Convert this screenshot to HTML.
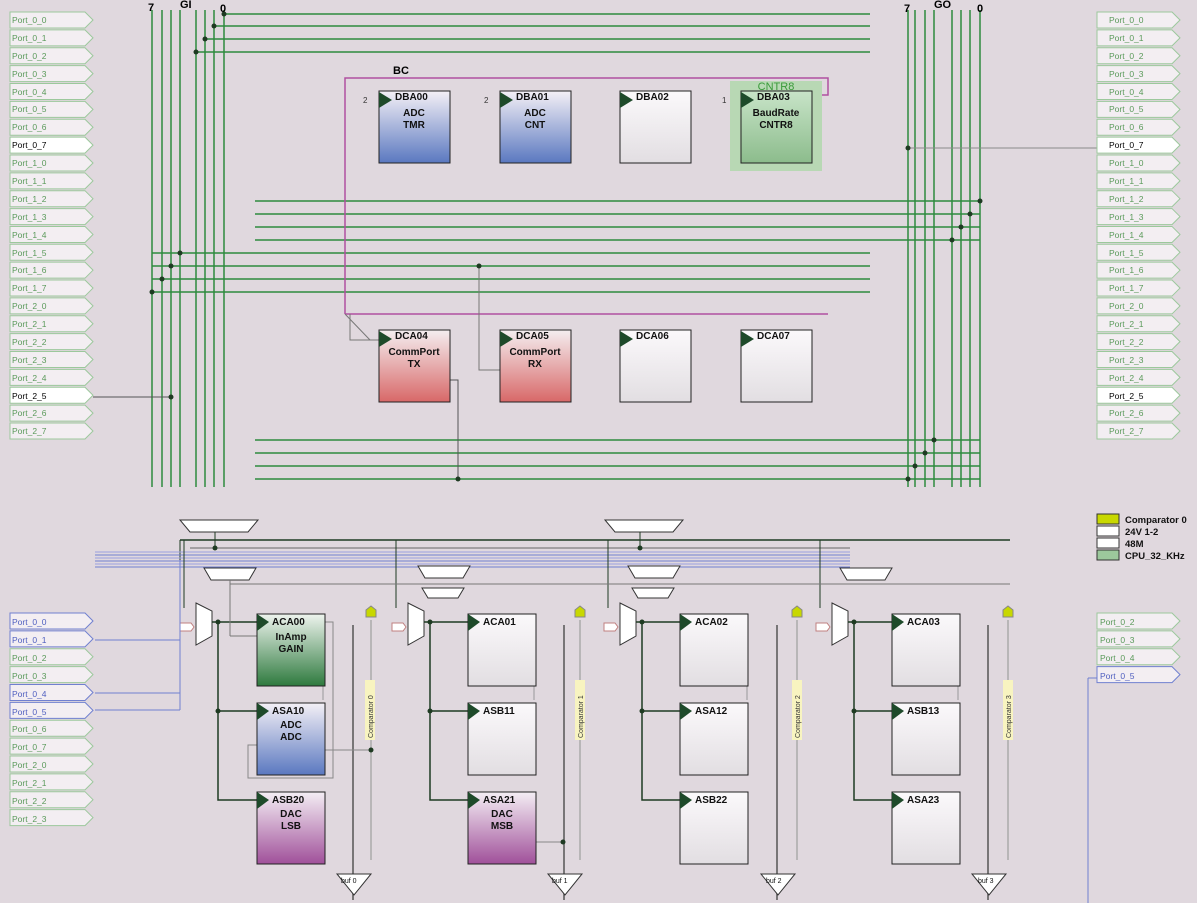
<!DOCTYPE html>
<html><head><meta charset="utf-8"><style>
html,body{margin:0;padding:0;background:#e0d8de;}
svg{display:block;font-family:"Liberation Sans",sans-serif;}
.pt{font-size:8.5px;fill:#5a9a5a}
.pw{font-size:8.5px;fill:#000}
.bt{font-size:10px;font-weight:bold;fill:#111;text-anchor:middle}
.bn{font-size:10px;font-weight:bold;fill:#111}
</style></head><body>
<svg id="s" width="1197" height="903" viewBox="0 0 1197 903" xmlns="http://www.w3.org/2000/svg">
<defs>
<linearGradient id="gb" x1="0" y1="0" x2="0" y2="1"><stop offset="0" stop-color="#f4f0f6"/><stop offset="1" stop-color="#5a78c0"/></linearGradient>
<linearGradient id="gw" x1="0" y1="0" x2="0" y2="1"><stop offset="0" stop-color="#fbf9fb"/><stop offset="1" stop-color="#e2dee2"/></linearGradient>
<linearGradient id="gr" x1="0" y1="0" x2="0" y2="1"><stop offset="0" stop-color="#f4eef0"/><stop offset="1" stop-color="#d86868"/></linearGradient>
<linearGradient id="gg" x1="0" y1="0" x2="0" y2="1"><stop offset="0" stop-color="#eef4ee"/><stop offset="1" stop-color="#2e7a3e"/></linearGradient>
<linearGradient id="gp" x1="0" y1="0" x2="0" y2="1"><stop offset="0" stop-color="#f4eef4"/><stop offset="1" stop-color="#a0509a"/></linearGradient>
<linearGradient id="gc" x1="0" y1="0" x2="0" y2="1"><stop offset="0" stop-color="#c8e4c8"/><stop offset="1" stop-color="#8cbc8c"/></linearGradient>
</defs>
<g id="lines"></g>
<text x="148" y="11" font-size="11" font-weight="bold">7</text>
<text x="180" y="8" font-size="11" font-weight="bold">GI</text>
<text x="220" y="12" font-size="11" font-weight="bold">0</text>
<text x="904" y="12" font-size="11" font-weight="bold">7</text>
<text x="934" y="8" font-size="11" font-weight="bold">GO</text>
<text x="977" y="12" font-size="11" font-weight="bold">0</text>
<text x="393" y="74" font-size="11" font-weight="bold">BC</text>
<rect x="730" y="81" width="92" height="90" fill="#b8d8b4"/>
<text x="776" y="90" font-size="11" fill="#3a9a3a" text-anchor="middle">CNTR8</text>
<g stroke="#222" stroke-width="1">
<rect x="379" y="91" width="71" height="72" fill="url(#gb)"/>
<rect x="500" y="91" width="71" height="72" fill="url(#gb)"/>
<rect x="620" y="91" width="71" height="72" fill="url(#gw)"/>
<rect x="741" y="91" width="71" height="72" fill="url(#gc)"/>
<rect x="379" y="330" width="71" height="72" fill="url(#gr)"/>
<rect x="500" y="330" width="71" height="72" fill="url(#gr)"/>
<rect x="620" y="330" width="71" height="72" fill="url(#gw)"/>
<rect x="741" y="330" width="71" height="72" fill="url(#gw)"/>
</g>
<g fill="#1e4a2a">
<polygon points="379,92 392,100 379,108"/><polygon points="500,92 513,100 500,108"/><polygon points="620,92 633,100 620,108"/><polygon points="741,92 754,100 741,108"/>
<polygon points="379,331 392,339 379,347"/><polygon points="500,331 513,339 500,347"/><polygon points="620,331 633,339 620,347"/><polygon points="741,331 754,339 741,347"/>
</g>
<text class="bn" x="395" y="100">DBA00</text><text class="bt" x="414" y="116">ADC</text><text class="bt" x="414" y="128">TMR</text>
<text class="bn" x="516" y="100">DBA01</text><text class="bt" x="535" y="116">ADC</text><text class="bt" x="535" y="128">CNT</text>
<text class="bn" x="636" y="100">DBA02</text>
<text class="bn" x="757" y="100">DBA03</text><text class="bt" x="776" y="116">BaudRate</text><text class="bt" x="776" y="128">CNTR8</text>
<text class="bn" x="395" y="339">DCA04</text><text class="bt" x="414" y="355">CommPort</text><text class="bt" x="414" y="367">TX</text>
<text class="bn" x="516" y="339">DCA05</text><text class="bt" x="535" y="355">CommPort</text><text class="bt" x="535" y="367">RX</text>
<text class="bn" x="636" y="339">DCA06</text>
<text class="bn" x="757" y="339">DCA07</text>
<g font-size="8" fill="#333"><text x="363" y="103">2</text><text x="484" y="103">2</text><text x="722" y="103">1</text></g>
<g stroke="#222" stroke-width="1">
<rect x="257" y="614" width="68" height="72" fill="url(#gg)"/>
<rect x="257" y="703" width="68" height="72" fill="url(#gb)"/>
<rect x="257" y="792" width="68" height="72" fill="url(#gp)"/>
<rect x="468" y="614" width="68" height="72" fill="url(#gw)"/>
<rect x="468" y="703" width="68" height="72" fill="url(#gw)"/>
<rect x="468" y="792" width="68" height="72" fill="url(#gp)"/>
<rect x="680" y="614" width="68" height="72" fill="url(#gw)"/>
<rect x="680" y="703" width="68" height="72" fill="url(#gw)"/>
<rect x="680" y="792" width="68" height="72" fill="url(#gw)"/>
<rect x="892" y="614" width="68" height="72" fill="url(#gw)"/>
<rect x="892" y="703" width="68" height="72" fill="url(#gw)"/>
<rect x="892" y="792" width="68" height="72" fill="url(#gw)"/>
</g>
<g fill="#1e4a2a">
<polygon points="257,614 269,622 257,631"/><polygon points="257,703 269,711 257,720"/><polygon points="257,792 269,800 257,809"/>
<polygon points="468,614 480,622 468,631"/><polygon points="468,703 480,711 468,720"/><polygon points="468,792 480,800 468,809"/>
<polygon points="680,614 692,622 680,631"/><polygon points="680,703 692,711 680,720"/><polygon points="680,792 692,800 680,809"/>
<polygon points="892,614 904,622 892,631"/><polygon points="892,703 904,711 892,720"/><polygon points="892,792 904,800 892,809"/>
</g>
<text class="bn" x="272" y="625">ACA00</text><text class="bt" x="291" y="640">InAmp</text><text class="bt" x="291" y="652">GAIN</text>
<text class="bn" x="272" y="714">ASA10</text><text class="bt" x="291" y="728">ADC</text><text class="bt" x="291" y="740">ADC</text>
<text class="bn" x="272" y="803">ASB20</text><text class="bt" x="291" y="817">DAC</text><text class="bt" x="291" y="829">LSB</text>
<text class="bn" x="483" y="625">ACA01</text><text class="bn" x="483" y="714">ASB11</text>
<text class="bn" x="483" y="803">ASA21</text><text class="bt" x="502" y="817">DAC</text><text class="bt" x="502" y="829">MSB</text>
<text class="bn" x="695" y="625">ACA02</text><text class="bn" x="695" y="714">ASA12</text><text class="bn" x="695" y="803">ASB22</text>
<text class="bn" x="907" y="625">ACA03</text><text class="bn" x="907" y="714">ASB13</text><text class="bn" x="907" y="803">ASA23</text>
<g font-size="7" fill="#333">
<rect x="365" y="680" width="10" height="60" fill="#f8f4c0"/><text transform="translate(373,738) rotate(-90)">Comparator 0</text>
<rect x="575" y="680" width="10" height="60" fill="#f8f4c0"/><text transform="translate(583,738) rotate(-90)">Comparator 1</text>
<rect x="792" y="680" width="10" height="60" fill="#f8f4c0"/><text transform="translate(800,738) rotate(-90)">Comparator 2</text>
<rect x="1003" y="680" width="10" height="60" fill="#f8f4c0"/><text transform="translate(1011,738) rotate(-90)">Comparator 3</text>
</g>
<g font-size="7" fill="#111">
<text x="341" y="883">buf 0</text><text x="552" y="883">buf 1</text><text x="766" y="883">buf 2</text><text x="978" y="883">buf 3</text>
</g>
<rect x="1097" y="514" width="22" height="10" fill="#c8d800" stroke="#333"/>
<rect x="1097" y="526" width="22" height="10" fill="#fff" stroke="#333"/>
<rect x="1097" y="538" width="22" height="10" fill="#fff" stroke="#333"/>
<rect x="1097" y="550" width="22" height="10" fill="#9cc89c" stroke="#333"/>
<g font-size="9.5" font-weight="bold" fill="#111">
<text x="1125" y="523">Comparator 0</text><text x="1125" y="535">24V 1-2</text><text x="1125" y="547">48M</text><text x="1125" y="559">CPU_32_KHz</text>
</g>
<g id="ports"></g>
<g id="ptext">
<text class="pt" x="12" y="23">Port_0_0</text><text class="pt" x="12" y="41">Port_0_1</text><text class="pt" x="12" y="59">Port_0_2</text><text class="pt" x="12" y="77">Port_0_3</text><text class="pt" x="12" y="95">Port_0_4</text><text class="pt" x="12" y="112">Port_0_5</text><text class="pt" x="12" y="130">Port_0_6</text><text class="pw" x="12" y="148">Port_0_7</text><text class="pt" x="12" y="166">Port_1_0</text><text class="pt" x="12" y="184">Port_1_1</text><text class="pt" x="12" y="202">Port_1_2</text><text class="pt" x="12" y="220">Port_1_3</text><text class="pt" x="12" y="238">Port_1_4</text><text class="pt" x="12" y="256">Port_1_5</text><text class="pt" x="12" y="273">Port_1_6</text><text class="pt" x="12" y="291">Port_1_7</text><text class="pt" x="12" y="309">Port_2_0</text><text class="pt" x="12" y="327">Port_2_1</text><text class="pt" x="12" y="345">Port_2_2</text><text class="pt" x="12" y="363">Port_2_3</text><text class="pt" x="12" y="381">Port_2_4</text><text class="pw" x="12" y="399">Port_2_5</text><text class="pt" x="12" y="416">Port_2_6</text><text class="pt" x="12" y="434">Port_2_7</text>
<text class="pt" x="1109" y="23">Port_0_0</text><text class="pt" x="1109" y="41">Port_0_1</text><text class="pt" x="1109" y="59">Port_0_2</text><text class="pt" x="1109" y="77">Port_0_3</text><text class="pt" x="1109" y="95">Port_0_4</text><text class="pt" x="1109" y="112">Port_0_5</text><text class="pt" x="1109" y="130">Port_0_6</text><text class="pw" x="1109" y="148">Port_0_7</text><text class="pt" x="1109" y="166">Port_1_0</text><text class="pt" x="1109" y="184">Port_1_1</text><text class="pt" x="1109" y="202">Port_1_2</text><text class="pt" x="1109" y="220">Port_1_3</text><text class="pt" x="1109" y="238">Port_1_4</text><text class="pt" x="1109" y="256">Port_1_5</text><text class="pt" x="1109" y="273">Port_1_6</text><text class="pt" x="1109" y="291">Port_1_7</text><text class="pt" x="1109" y="309">Port_2_0</text><text class="pt" x="1109" y="327">Port_2_1</text><text class="pt" x="1109" y="345">Port_2_2</text><text class="pt" x="1109" y="363">Port_2_3</text><text class="pt" x="1109" y="381">Port_2_4</text><text class="pw" x="1109" y="399">Port_2_5</text><text class="pt" x="1109" y="416">Port_2_6</text><text class="pt" x="1109" y="434">Port_2_7</text>
<text class="pt" x="12" y="625" style="fill:#5060c0">Port_0_0</text><text class="pt" x="12" y="643" style="fill:#5060c0">Port_0_1</text><text class="pt" x="12" y="661">Port_0_2</text><text class="pt" x="12" y="679">Port_0_3</text><text class="pt" x="12" y="697" style="fill:#5060c0">Port_0_4</text><text class="pt" x="12" y="715" style="fill:#5060c0">Port_0_5</text><text class="pt" x="12" y="732">Port_0_6</text><text class="pt" x="12" y="750">Port_0_7</text><text class="pt" x="12" y="768">Port_2_0</text><text class="pt" x="12" y="786">Port_2_1</text><text class="pt" x="12" y="804">Port_2_2</text><text class="pt" x="12" y="822">Port_2_3</text>
<text class="pt" x="1100" y="625">Port_0_2</text><text class="pt" x="1100" y="643">Port_0_3</text><text class="pt" x="1100" y="661">Port_0_4</text><text class="pt" x="1100" y="679" style="fill:#5060c0">Port_0_5</text>
</g>
<script>
var NS="http://www.w3.org/2000/svg";
var L=document.getElementById("lines"),P=document.getElementById("ports");
function el(g,t,a){var e=document.createElementNS(NS,t);for(var k in a)e.setAttribute(k,a[k]);g.appendChild(e);return e;}
function ln(x1,y1,x2,y2,c,w){el(L,"line",{x1:x1,y1:y1,x2:x2,y2:y2,stroke:c||"#2e8a3e","stroke-width":w||1.5});}
function dot(x,y){el(L,"circle",{cx:x,cy:y,r:2.5,fill:"#1e3a22"});}
function port(x,y,w,white,blue){el(P,"polygon",{points:x+","+(y-8)+" "+(x+w)+","+(y-8)+" "+(x+w+8)+","+y+" "+(x+w)+","+(y+8)+" "+x+","+(y+8),fill:white?"#fff":"#f3eef2",stroke:blue?"#7080d0":"#9cc89c","stroke-width":1});}
for(var i=0;i<24;i++){var y=20+i*17.87;var w=(i==7||i==21);port(10,y,75,w);port(1097,y,75,w);}
for(var i=0;i<12;i++){var y=621+i*17.87;port(10,y,75,false,[0,1,4,5].indexOf(i)>=0);}
for(var i=0;i<4;i++){port(1097,621+i*17.87,75,false,i==3);}
[152,162,171,180,196,205,214,224].forEach(function(x){ln(x,10,x,487);});
[908,915,925,934,952,961,970,980].forEach(function(x){ln(x,10,x,487);});
[[14,224],[26,214],[39,205],[52,196]].forEach(function(a){ln(a[1],a[0],870,a[0]);dot(a[1],a[0]);});
[[201,980],[214,970],[227,961],[240,952]].forEach(function(a){ln(255,a[0],980,a[0]);dot(a[1],a[0]);});
[[253,180],[266,171],[279,162],[292,152]].forEach(function(a){ln(152,a[0],870,a[0]);dot(a[1],a[0]);});
[[440,934],[453,925],[466,915],[479,908]].forEach(function(a){ln(255,a[0],980,a[0]);dot(a[1],a[0]);});
ln(908,148,1097,148,"#8a8a8a",1);dot(908,148);
ln(93,397,171,397,"#555",1);dot(171,397);
var M="#b050a0";
el(L,"polyline",{points:"345,314 345,78 828,78 828,95 812,95",fill:"none",stroke:M,"stroke-width":1.5});
ln(345,314,828,314,M,1.5);
ln(345,314,370,340,"#777",1);
el(L,"polyline",{points:"350,314 350,340 379,340",fill:"none",stroke:"#777","stroke-width":1});
el(L,"polyline",{points:"479,266 479,370 500,370",fill:"none",stroke:"#777","stroke-width":1});dot(479,266);
el(L,"polyline",{points:"440,380 458,380 458,479",fill:"none",stroke:"#555","stroke-width":1});dot(458,479);
var D="#1e3a22";
ln(180,540,1010,540,D,1.5);ln(180,540,180,612,D,1);
ln(190,548,850,548,"#666",1);
for(var k=0;k<6;k++){ln(95,552+k*3,850,552+k*3,k%2?"#7080d0":"#9aa0e0",1);}
var cols=[0,212,424,636];
cols.forEach(function(o,i){
 var mx=196+o;
 el(L,"polygon",{points:(mx)+",603 "+(mx+16)+",611 "+(mx+16)+",636 "+(mx)+",645",fill:"#fff",stroke:"#333"});
 ln(mx+16,622,257+o,622,D,1.5);dot(mx+22,622);
 el(L,"polyline",{points:(mx+22)+",622 "+(mx+22)+",800 "+(257+o)+",800",fill:"none",stroke:D,"stroke-width":1.5});
 ln(mx+22,711,257+o,711,D,1.5);dot(mx+22,711);
 el(L,"polyline",{points:(mx-12)+",608 "+(mx-12)+",540",fill:"none",stroke:D,"stroke-width":1});
 el(L,"polygon",{points:(mx-16)+",623 "+(mx-5)+",623 "+(mx-2)+",627 "+(mx-5)+",631 "+(mx-16)+",631",fill:"#fff",stroke:"#c08080"});
 var bx=353+[0,211,424,635][i];
 ln(bx,625,bx,900,"#555",1.5);
 el(L,"polygon",{points:(bx-16)+",874 "+(bx+18)+",874 "+(bx+1)+",895",fill:"#fff",stroke:"#333"});
 var cx=371+[0,209,426,637][i];
 ln(cx,620,cx,860,"#aaa",1.5);
 el(L,"polygon",{points:(cx-5)+",617 "+(cx-5)+",610 "+(cx)+",606 "+(cx+5)+",610 "+(cx+5)+",617",fill:"#c8d800",stroke:"#888"});
 ln(bx-30,686,bx-30,700,"#999",1);
});
[[180,520],[605,520]].forEach(function(p){el(L,"polygon",{points:p[0]+","+p[1]+" "+(p[0]+78)+","+p[1]+" "+(p[0]+68)+","+(p[1]+12)+" "+(p[0]+10)+","+(p[1]+12),fill:"#fff",stroke:"#333"});ln(p[0]+35,p[1]+12,p[0]+35,548,D,1);dot(p[0]+35,548);});
[[204,568],[418,566],[628,566],[840,568]].forEach(function(p){el(L,"polygon",{points:p[0]+","+p[1]+" "+(p[0]+52)+","+p[1]+" "+(p[0]+45)+","+(p[1]+12)+" "+(p[0]+7)+","+(p[1]+12),fill:"#fff",stroke:"#333"});});
[[422,588],[632,588]].forEach(function(p){el(L,"polygon",{points:p[0]+","+p[1]+" "+(p[0]+42)+","+p[1]+" "+(p[0]+36)+","+(p[1]+10)+" "+(p[0]+6)+","+(p[1]+10),fill:"#fff",stroke:"#333"});});
ln(230,580,230,636,"#777",1);ln(230,636,257,636,"#777",1);
ln(230,584,1010,584,"#777",1);
el(L,"polyline",{points:"325,622 333,622 333,778 248,778 248,745 257,745",fill:"none",stroke:"#888","stroke-width":1});
ln(325,750,371,750,"#888",1);dot(371,750);
ln(536,842,563,842,"#888",1);dot(563,842);
ln(1088,678,1088,903,"#7080d0",1);ln(1088,678,1097,678,"#7080d0",1);
ln(95,640,180,640,"#7080d0",1);ln(95,693,180,693,"#7080d0",1);ln(95,710,180,710,"#7080d0",1);
ln(180,560,180,710,"#7080d0",1);
</script>
</svg>
</body></html>
